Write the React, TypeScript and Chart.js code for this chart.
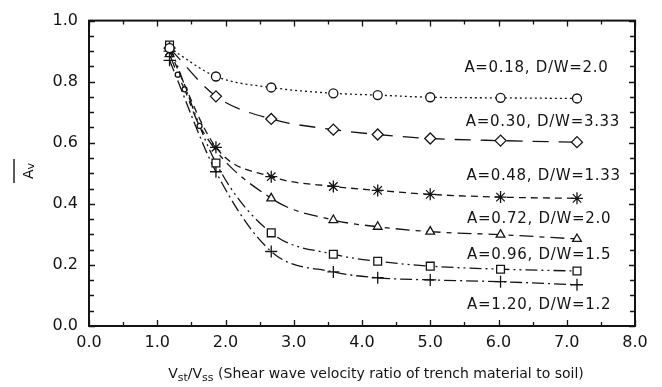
import React, { useEffect, useRef } from 'react';
import { Chart, registerables } from 'chart.js';

Chart.register(...registerables);

// ---- data ----
const xRatio = [1.18, 1.86, 2.67, 3.58, 4.23, 5.0, 6.03, 7.15];
const a018 = [0.91, 0.817, 0.781, 0.762, 0.756, 0.749, 0.747, 0.745];
const a030 = [0.91, 0.752, 0.678, 0.643, 0.627, 0.614, 0.607, 0.602];
const a048 = [0.9, 0.585, 0.489, 0.457, 0.444, 0.431, 0.422, 0.418];
const xTriangle = [1.18, 1.3, 1.4, 1.62, 2.67, 3.58, 4.23, 5.0, 6.03, 7.15];
const a072 = [0.89, 0.823, 0.775, 0.655, 0.418, 0.347, 0.325, 0.309, 0.299, 0.285];
const a096 = [0.92, 0.534, 0.305, 0.235, 0.212, 0.196, 0.186, 0.18];
const a120 = [0.87, 0.505, 0.244, 0.177, 0.158, 0.151, 0.145, 0.135];

const seriesLabels = [
  'A=0.18, D/W=2.0',
  'A=0.30, D/W=3.33',
  'A=0.48, D/W=1.33',
  'A=0.72, D/W=2.0',
  'A=0.96, D/W=1.5',
  'A=1.20, D/W=1.2',
];
const labelAtX = [5.5, 5.52, 5.53, 5.54, 5.54, 5.54];
const labelAtY = [0.846, 0.669, 0.492, 0.35, 0.232, 0.068];

const xTickValues = [0, 1, 2, 3, 4, 5, 6, 7, 8];
const yTickValues = [0, 0.2, 0.4, 0.6, 0.8, 1.0];

const INK = '#141414';
const FONT = "'DejaVu Sans', 'Liberation Sans', sans-serif";

const pts = (xs: number[], ys: number[]) => xs.map((x, i) => ({ x, y: ys[i] }));

const framePlugin = {
  id: 'frame',
  afterDraw(chart: any) {
    const { ctx, chartArea, scales } = chart;
    const { left, right, top, bottom } = chartArea;
    const x = scales.x;
    const y = scales.y;
    ctx.save();
    ctx.strokeStyle = INK;
    ctx.lineWidth = 1.3;
    for (let i = 0; i <= 16; i++) {
      const v = i * 0.5;
      const px = Math.round(x.getPixelForValue(v)) + 0.5;
      const len = i % 2 === 0 ? 6 : 4;
      ctx.beginPath();
      ctx.moveTo(px, bottom);
      ctx.lineTo(px, bottom - len);
      ctx.moveTo(px, top);
      ctx.lineTo(px, top + len);
      ctx.stroke();
    }
    for (let i = 0; i <= 20; i++) {
      const v = i * 0.05;
      const py = Math.round(y.getPixelForValue(v)) + 0.5;
      const len = i % 4 === 0 ? 6 : 5;
      ctx.beginPath();
      ctx.moveTo(left, py);
      ctx.lineTo(left + len, py);
      ctx.moveTo(right, py);
      ctx.lineTo(right - len, py);
      ctx.stroke();
    }
    ctx.lineWidth = 2;
    ctx.strokeRect(left, top, right - left, bottom - top);

    // series annotations
    ctx.fillStyle = INK;
    ctx.font = `15px ${FONT}`;
    ctx.textAlign = 'left';
    ctx.textBaseline = 'middle';
    try { (ctx as any).letterSpacing = '0.7px'; } catch (e) { /* ignore */ }
    seriesLabels.forEach((t, i) => {
      ctx.fillText(t, x.getPixelForValue(labelAtX[i]), y.getPixelForValue(labelAtY[i]));
    });
    try { (ctx as any).letterSpacing = '0px'; } catch (e) { /* ignore */ }

    // x axis title with subscripts
    const parts: [string, boolean][] = [
      ['V', false], ['st', true], ['/', false], ['V', false], ['ss', true],
      [' (Shear wave velocity ratio of trench material to soil)', false],
    ];
    const big = `14px ${FONT}`;
    const small = `11px ${FONT}`;
    let total = 0;
    parts.forEach(([s, sub]) => { ctx.font = sub ? small : big; total += ctx.measureText(s).width; });
    let cx = (left + right) / 2 + 14 - total / 2;
    const base = 378;
    ctx.textBaseline = 'alphabetic';
    parts.forEach(([s, sub]) => {
      ctx.font = sub ? small : big;
      ctx.fillText(s, cx, sub ? base + 3 : base);
      cx += ctx.measureText(s).width;
    });

    // y axis title: A-bar v, rotated
    ctx.save();
    ctx.translate(29, 171);
    ctx.rotate(-Math.PI / 2);
    ctx.font = `14px ${FONT}`;
    ctx.textBaseline = 'middle';
    const wA = ctx.measureText('A').width;
    ctx.font = `11px ${FONT}`;
    const wv = ctx.measureText('v').width;
    const startX = -(wA + wv) / 2;
    ctx.font = `14px ${FONT}`;
    ctx.fillText('A', startX, 0);
    ctx.font = `11px ${FONT}`;
    ctx.fillText('v', startX + wA, 2);
    ctx.lineWidth = 1.4;
    ctx.beginPath();
    ctx.moveTo(-12, -15);
    ctx.lineTo(12, -15);
    ctx.stroke();
    ctx.restore();

    ctx.restore();
  },
};

export default function App() {
  const ref = useRef<HTMLCanvasElement | null>(null);
  useEffect(() => {
    document.body.style.margin = '0';
    const canvas = ref.current;
    if (!canvas) return;
    const common = {
      borderColor: INK,
      borderWidth: 1.3,
      pointBorderColor: INK,
      pointBackgroundColor: '#ffffff',
      pointBorderWidth: 1.3,
      cubicInterpolationMode: 'monotone' as const,
      fill: false,
    };
    const chart = new Chart(canvas, {
      type: 'line',
      data: {
        datasets: [
          { ...common, label: seriesLabels[0], data: pts(xRatio, a018), borderDash: [2, 3], pointStyle: 'circle', pointRadius: 4.5 },
          { ...common, label: seriesLabels[1], data: pts(xRatio, a030), borderDash: [16, 10], pointStyle: 'rectRot', pointRadius: 5.5 },
          { ...common, label: seriesLabels[2], data: pts(xRatio, a048), borderDash: [7, 5], pointStyle: 'star', pointRadius: 6 },
          {
            ...common, label: seriesLabels[3], data: pts(xTriangle, a072), borderDash: [14, 6, 5, 6],
            pointStyle: xTriangle.map((_, i) => (i >= 1 && i <= 3 ? 'circle' : 'triangle')),
            pointRadius: xTriangle.map((_, i) => (i >= 1 && i <= 3 ? 2.5 : 5)),
          },
          { ...common, label: seriesLabels[4], data: pts(xRatio, a096), borderDash: [12, 4, 2, 4, 2, 4], pointStyle: 'rect', pointRadius: 5.5 },
          { ...common, label: seriesLabels[5], data: pts(xRatio, a120), borderDash: [12, 4, 2, 4], pointStyle: 'cross', pointRadius: 6 },
        ],
      },
      options: {
        responsive: false,
        animation: false,
        layout: { padding: { left: 0, top: 15, right: 27, bottom: 0 } },
        plugins: { legend: { display: false }, tooltip: { enabled: false } },
        scales: {
          x: {
            type: 'linear', min: 0, max: 8,
            grid: { display: false, drawTicks: false },
            border: { display: false },
            afterFit: (s: any) => { s.height = 61; },
            afterBuildTicks: (s: any) => { s.ticks = xTickValues.map((v) => ({ value: v })); },
            ticks: {
              color: INK, padding: 7, maxRotation: 0, autoSkip: false,
              font: { family: FONT, size: 16 },
              callback: (v: any) => Number(v).toFixed(1),
            },
          },
          y: {
            type: 'linear', min: 0, max: 1,
            grid: { display: false, drawTicks: false },
            border: { display: false },
            afterFit: (s: any) => { s.width = 89; },
            afterBuildTicks: (s: any) => { s.ticks = yTickValues.map((v) => ({ value: v })); },
            ticks: {
              color: INK, padding: 11, autoSkip: false,
              font: { family: FONT, size: 16 },
              callback: (v: any) => Number(v).toFixed(1),
            },
          },
        },
      },
      plugins: [framePlugin],
    } as any);
    return () => chart.destroy();
  }, []);
  return <canvas ref={ref} width={662} height={387} style={{ display: 'block' }} />;
}
